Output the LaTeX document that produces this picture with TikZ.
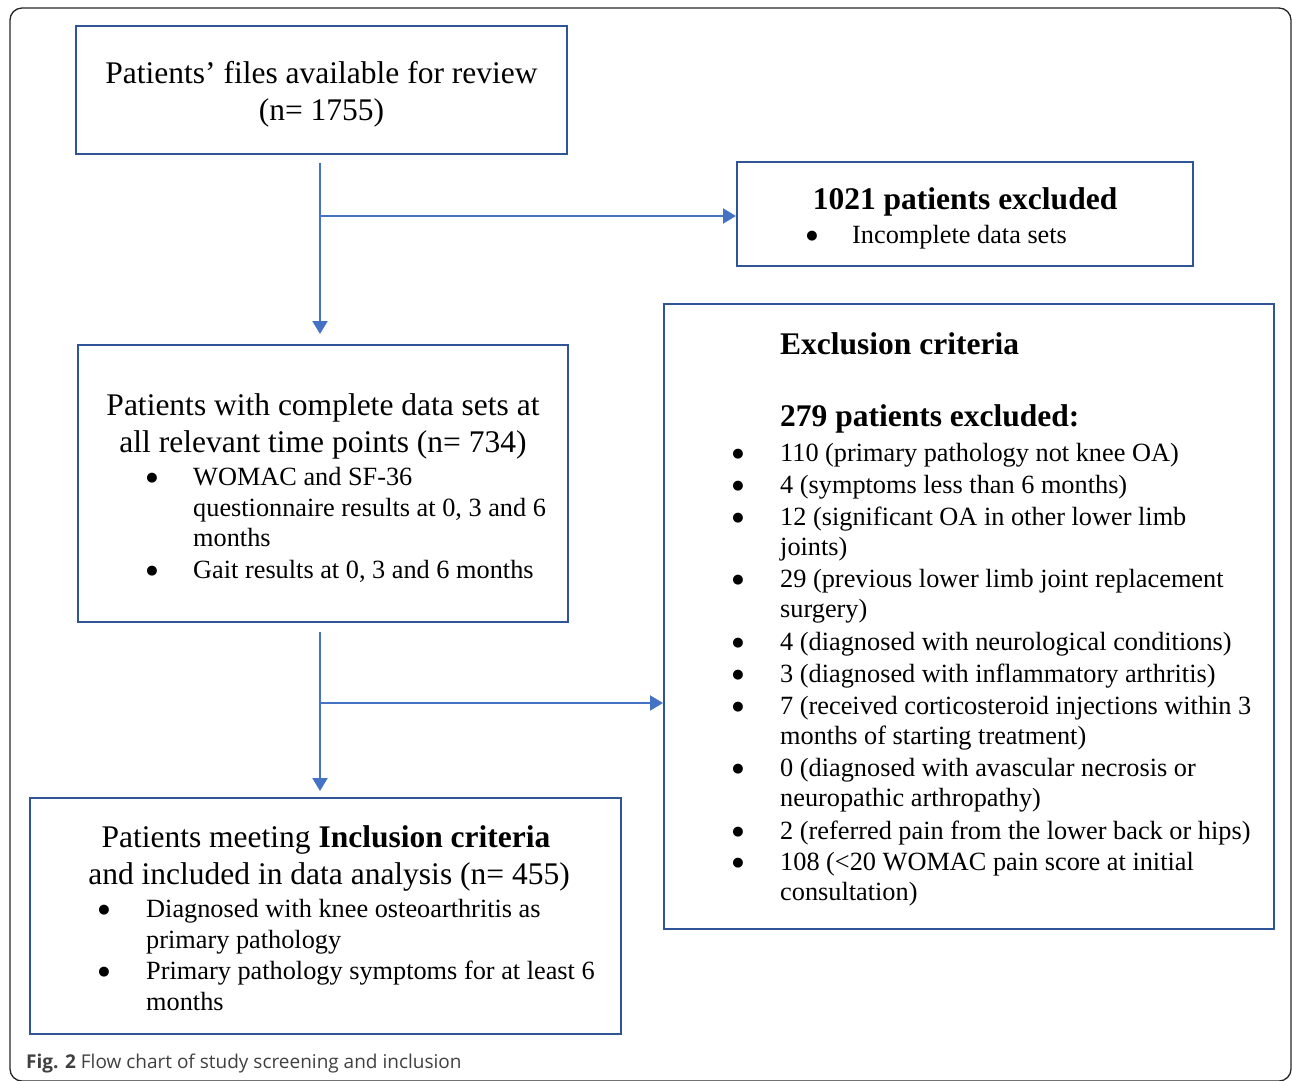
\documentclass[tikz,border=0pt]{standalone}
\usepackage{fontspec}
\setmainfont{Liberation Serif}
\newfontfamily\capfont{Open Sans}
\newfontfamily\symfont{DejaVu Sans}
\usetikzlibrary{arrows.meta,calc}
\definecolor{boxblue}{HTML}{2F5597}
\definecolor{arrblue}{HTML}{4472C4}
\definecolor{capgray}{HTML}{404040}
\begin{document}
\begin{tikzpicture}[x=1pt,y=-1pt,
  box/.style={draw=boxblue, line width=2pt, rectangle, inner sep=0pt},
  hd/.style={font=\fontsize{31.5}{36}\selectfont, inner sep=0pt, anchor=base},
  hdl/.style={font=\fontsize{31.5}{36}\selectfont\bfseries, inner sep=0pt, anchor=base west},
  tx/.style={font=\fontsize{26.3}{30}\selectfont, inner sep=0pt, anchor=base west},
  bul/.style={font=\symfont\fontsize{13}{14}\selectfont, inner sep=0pt, anchor=center, yshift=6.5pt},
  arr/.style={draw=arrblue, line width=2pt, -{Triangle[length=13pt,width=15pt]}, arrblue},
  ln/.style={draw=arrblue, line width=2pt}]
\useasboundingbox (0,0) rectangle (1292,1080);
\clip (0,0) rectangle (1292,1080);
% outer frame
\draw[line width=1.3pt, black!85, rounded corners=12pt] (10,8) rectangle (1291,1081);

% boxes
\node[box, minimum width=491pt, minimum height=128pt] (b1) at (321.5,90) {};
\node[box, minimum width=456pt, minimum height=104pt] (b2) at (965,214) {};
\node[box, minimum width=490pt, minimum height=277pt] (b3) at (323,483.5) {};
\node[box, minimum width=610pt, minimum height=625pt] (b4) at (969,616.5) {};
\node[box, minimum width=591pt, minimum height=236pt] (b5) at (325.5,916) {};

% box 1
\node[hd] (t1a) at (321.5,83) {Patients’ files available for review};
\node[hd] (t1b) at (321.5,120) {(n= 1755)};

% box 2
\node[hd, font=\fontsize{31.5}{36}\selectfont\bfseries] (t2a) at (965,209) {1021 patients excluded};
\node[bul] (t2p) at (812,243) {●};
\node[tx] (t2b) at (852,243) {Incomplete data sets};

% box 3
\node[hd] (t3a) at (323,415) {Patients with complete data sets at};
\node[hd] (t3b) at (323,452) {all relevant time points (n= 734)};
\node[bul] (t3p1) at (152,485) {●};
\node[tx] (t3c) at (193,485) {WOMAC and SF-36};
\node[tx] (t3d) at (193,516) {questionnaire results at 0, 3 and 6};
\node[tx] (t3e) at (193,546) {months};
\node[bul] (t3p2) at (152,578) {●};
\node[tx] (t3f) at (193,578) {Gait results at 0, 3 and 6 months};

% box 4
\node[hdl] (t4a) at (780,354) {Exclusion criteria};
\node[hdl] (t4b) at (780,426) {279 patients excluded:};
\node[bul] (p1) at (738,461) {●};
\node[tx] (l1) at (780,461) {110 (primary pathology not knee OA)};
\node[bul] (p2) at (738,493) {●};
\node[tx] (l2) at (780,493) {4 (symptoms less than 6 months)};
\node[bul] (p3) at (738,525) {●};
\node[tx] (l3) at (780,525) {12 (significant OA in other lower limb};
\node[tx] (l3b) at (780,555) {joints)};
\node[bul] (p4) at (738,587) {●};
\node[tx] (l4) at (780,587) {29 (previous lower limb joint replacement};
\node[tx] (l4b) at (780,617) {surgery)};
\node[bul] (p5) at (738,650) {●};
\node[tx] (l5) at (780,650) {4 (diagnosed with neurological conditions)};
\node[bul] (p6) at (738,682) {●};
\node[tx] (l6) at (780,682) {3 (diagnosed with inflammatory arthritis)};
\node[bul] (p7) at (738,714) {●};
\node[tx] (l7) at (780,714) {7 (received corticosteroid injections within 3};
\node[tx] (l7b) at (780,744) {months of starting treatment)};
\node[bul] (p8) at (738,776) {●};
\node[tx] (l8) at (780,776) {0 (diagnosed with avascular necrosis or};
\node[tx] (l8b) at (780,806) {neuropathic arthropathy)};
\node[bul] (p9) at (738,839) {●};
\node[tx] (l9) at (780,839) {2 (referred pain from the lower back or hips)};
\node[bul] (p10) at (738,870) {●};
\node[tx] (l10) at (780,870) {108 (<20 WOMAC pain score at initial};
\node[tx] (l10b) at (780,900) {consultation)};

% box 5
\node[hd] (t5a) at (326,847) {Patients meeting \textbf{Inclusion criteria}};
\node[hd] (t5b) at (329,884) {and included in data analysis (n= 455)};
\node[bul] (t5p1) at (104,917) {●};
\node[tx] (t5c) at (146,917) {Diagnosed with knee osteoarthritis as};
\node[tx] (t5d) at (146,948) {primary pathology};
\node[bul] (t5p2) at (104,979) {●};
\node[tx] (t5e) at (146,979) {Primary pathology symptoms for at least 6};
\node[tx] (t5f) at (146,1010) {months};

% connectors
\coordinate (s1) at (320,163);
\coordinate (j1) at (320,216);
\draw[arr] (s1) -- ($(s1 |- b3.north)+(0,-10)$);
\draw[arr] (j1) -- (j1 -| b2.west);
\coordinate (s2) at (320,632);
\coordinate (j2) at (320,703);
\draw[arr] (s2) -- ($(s2 |- b5.north)+(0,-6)$);
\draw[arr] (j2) -- (j2 -| b4.west);

% caption
\node[inner sep=0pt, anchor=base west, text=capgray, font=\capfont\fontsize{19}{22}\selectfont] (cap) at (26,1068) {\textbf{Fig. 2} Flow chart of study screening and inclusion};
\end{tikzpicture}
\end{document}
